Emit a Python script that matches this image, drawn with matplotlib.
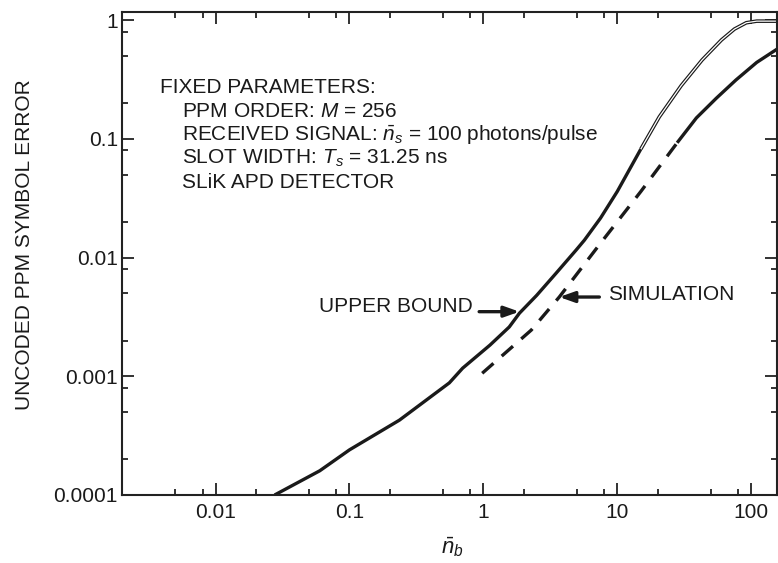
import numpy as np
import matplotlib.pyplot as plt
from matplotlib.ticker import FixedLocator, NullFormatter

plt.rcParams["font.family"] = ["Liberation Sans", "DejaVu Sans"]
plt.rcParams["mathtext.fontset"] = "custom"
plt.rcParams["mathtext.rm"] = "Liberation Sans"
plt.rcParams["mathtext.it"] = "Liberation Sans:italic"

INK = "#1a1a1a"

# upper bound: thick solid part, then the hollow double line near saturation
ub_x = [0.0276, 0.06, 0.1, 0.236, 0.557, 0.70, 1.12, 1.56, 1.86, 2.5, 3.5,
        4.94, 5.68, 7.5, 10, 15]
ub_y = [1e-4, 1.6e-4, 2.4e-4, 4.27e-4, 8.8e-4, 1.17e-3, 1.83e-3, 2.6e-3,
        3.4e-3, 4.8e-3, 7.4e-3, 1.16e-2, 1.40e-2, 0.0215, 0.036, 0.082]
ub2_x = [15, 20.6, 30, 43, 60, 75, 92, 110, 160]
ub2_y = [0.082, 0.153, 0.28, 0.461, 0.68, 0.84, 0.95, 0.98, 0.98]

# simulation: dashed, then solid at the high end
sim_x = [0.98, 2.28, 3.69, 7.3, 15, 28.5]
sim_y = [1.06e-3, 2.45e-3, 4.65e-3, 1.27e-2, 0.036, 0.095]
sim2_x = [28.5, 39, 55, 77, 110, 160]
sim2_y = [0.095, 0.15, 0.22, 0.313, 0.44, 0.58]

x_major = [0.01, 0.1, 1, 10, 100]
x_labels = ["0.01", "0.1", "1", "10", "100"]
y_major = [1e-4, 1e-3, 1e-2, 0.1, 1]
y_labels = ["0.0001", "0.001", "0.01", "0.1", "1"]
minor_mult = [2, 5, 8]

W, H = 778, 563
fig = plt.figure(figsize=(W / 100, H / 100), dpi=100)
ax = fig.add_axes([122 / W, 1 - 495 / H, (777 - 122) / W, (495 - 12) / H])
ax.set_xscale("log")
ax.set_yscale("log")
ax.set_xlim(0.002, 156)
ax.set_ylim(1e-4, 1.17)

ax.plot(ub_x, ub_y, color=INK, lw=2.4, solid_capstyle="butt")
ax.plot(ub2_x, ub2_y, color=INK, lw=2.6, solid_capstyle="butt")
ax.plot(ub2_x, ub2_y, color="white", lw=0.9, solid_capstyle="butt")
ax.plot(sim_x, sim_y, color=INK, lw=2.4, dashes=(4.5, 3.3))
ax.plot(sim2_x, sim2_y, color=INK, lw=2.4)

x_minor = [m * d for d in [0.001, 0.01, 0.1, 1, 10, 100] for m in minor_mult]
y_minor = [m * d for d in [1e-4, 1e-3, 1e-2, 0.1, 1] for m in minor_mult]
ax.xaxis.set_major_locator(FixedLocator(x_major))
ax.xaxis.set_minor_locator(FixedLocator(x_minor))
ax.yaxis.set_major_locator(FixedLocator(y_major))
ax.yaxis.set_minor_locator(FixedLocator(y_minor))
ax.set_xticklabels(x_labels)
ax.set_yticklabels(y_labels)
ax.xaxis.set_minor_formatter(NullFormatter())
ax.yaxis.set_minor_formatter(NullFormatter())
ax.tick_params(which="both", direction="in", top=True, right=True,
               labelsize=15, width=1.3, color="#222222", labelcolor=INK)
ax.tick_params(which="major", length=8.5)
ax.tick_params(which="minor", length=4.5)
ax.tick_params(axis="x", which="major", pad=6)
ax.tick_params(axis="y", which="major", pad=3)
for s in ax.spines.values():
    s.set_linewidth(1.5)
    s.set_color("#222222")

fig.text(452 / W, 1 - 547 / H, r"$\bar{n}_b$", fontsize=16,
         ha="center", va="center", color=INK)
fig.text(25 / W, 1 - 245 / H, "UNCODED PPM SYMBOL ERROR", fontsize=15,
         rotation=90, ha="center", va="center", color=INK)

lines = [
    ("FIXED PARAMETERS:", 160),
    ("PPM ORDER: $M$ = 256", 182),
    (r"RECEIVED SIGNAL: $\bar{n}_s$ = 100 photons/pulse", 182),
    ("SLOT WIDTH: $T_s$ = 31.25 ns", 182),
    ("SLiK APD DETECTOR", 182),
]
for i, (txt, px) in enumerate(lines):
    fig.text(px / W, 1 - (93 + 23.7 * i) / H, txt, fontsize=15,
             va="baseline", ha="left", color=INK)

arrow = dict(arrowstyle="-|>,head_length=0.9,head_width=0.32",
             lw=2.4, color=INK, shrinkA=0, shrinkB=0)
fig.text(473 / W, 1 - 307 / H, "UPPER BOUND", fontsize=15,
         ha="right", va="center", color=INK)
ax.annotate("", xy=(1.86, 3.5e-3), xytext=(0.93, 3.5e-3), arrowprops=arrow)
fig.text(608 / W, 1 - 295 / H, "SIMULATION", fontsize=15,
         ha="left", va="center", color=INK)
ax.annotate("", xy=(3.69, 4.65e-3), xytext=(7.35, 4.65e-3), arrowprops=arrow)

fig.savefig("out.png", dpi=100)
